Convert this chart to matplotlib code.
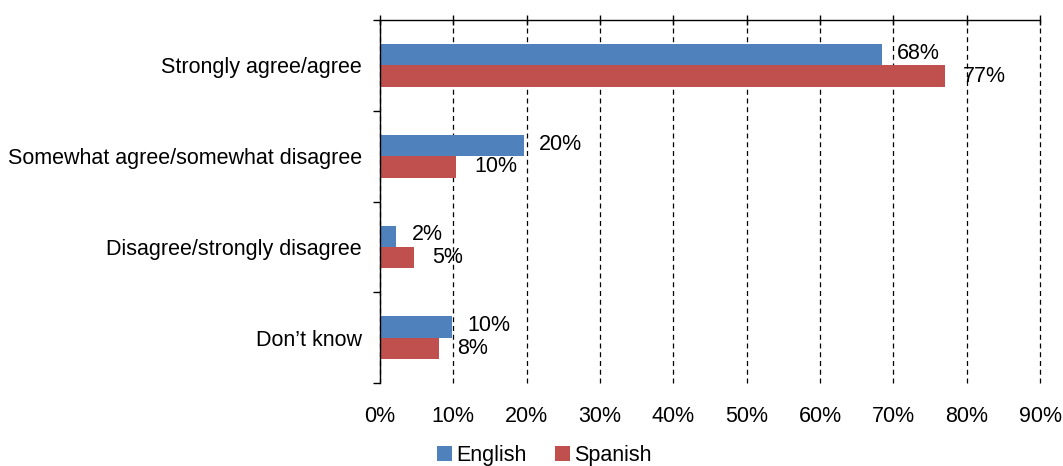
import matplotlib.pyplot as plt
import numpy as np
from matplotlib.ticker import MultipleLocator, FixedLocator

plt.rcParams['font.family'] = ['Liberation Sans', 'DejaVu Sans']

# Data
categories = ['Strongly agree/agree', 'Somewhat agree/somewhat disagree',
              'Disagree/strongly disagree', 'Don\u2019t know']
english = [68.4, 19.6, 2.2, 9.8]
spanish = [77.0, 10.4, 4.6, 8.0]
english_labels = ['68%', '20%', '2%', '10%']
spanish_labels = ['77%', '10%', '5%', '8%']

blue = '#4F81BD'
red = '#C0504D'
fs = 15.5

fig = plt.figure(figsize=(10.63, 4.66), dpi=100)
ax = fig.add_axes([0.3575, 0.178, 0.6209, 0.779])

y = np.arange(len(categories))
h = 0.236
ax.barh(y - h / 2, english, height=h, color=blue, label='English')
ax.barh(y + h / 2, spanish, height=h, color=red, label='Spanish')

for yi, v, lab in zip(y, english, english_labels):
    ax.annotate(lab, (v, yi - h / 2), xytext=(11, 1), textcoords='offset points',
                va='center', ha='left', fontsize=fs)
for yi, v, lab in zip(y, spanish, spanish_labels):
    ax.annotate(lab, (v, yi + h / 2), xytext=(13, 0), textcoords='offset points',
                va='center', ha='left', fontsize=fs)

ax.set_xlim(0, 90)
ax.set_ylim(len(categories) - 0.5, -0.5)

# x axis: line at the top with crossing ticks, labels at the bottom
ax.xaxis.set_major_locator(MultipleLocator(10))
ax.xaxis.set_major_formatter(lambda v, p: f'{v:.0f}%')
ax.tick_params(axis='x', which='major', bottom=False, top=True, labelbottom=True,
               direction='inout', length=7, width=1, pad=13, labelsize=fs)
ax.grid(axis='x', color='black', linestyle=(0, (4, 3)), linewidth=0.9)
ax.set_axisbelow(True)
for gl in ax.get_xgridlines():
    gl.set_clip_on(False)

# y axis: labels at category centres, ticks at boundaries
ax.set_yticks(y)
ax.set_yticklabels(categories, fontsize=fs)
ax.tick_params(axis='y', which='major', length=0, pad=13)
ax.yaxis.set_minor_locator(FixedLocator(np.arange(-0.5, len(categories), 1)))
ax.tick_params(axis='y', which='minor', left=True, direction='out', length=5, width=1)

for side in ['right', 'bottom']:
    ax.spines[side].set_visible(False)
ax.spines['left'].set_linewidth(1)
ax.spines['top'].set_linewidth(1)

fig.legend(loc='center', bbox_to_anchor=(0.512, 0.022), ncol=2, frameon=False,
           fontsize=fs, handlelength=0.7, handleheight=0.7, handletextpad=0.2,
           columnspacing=1.3, borderaxespad=0)

fig.savefig('out.png', dpi=100)
